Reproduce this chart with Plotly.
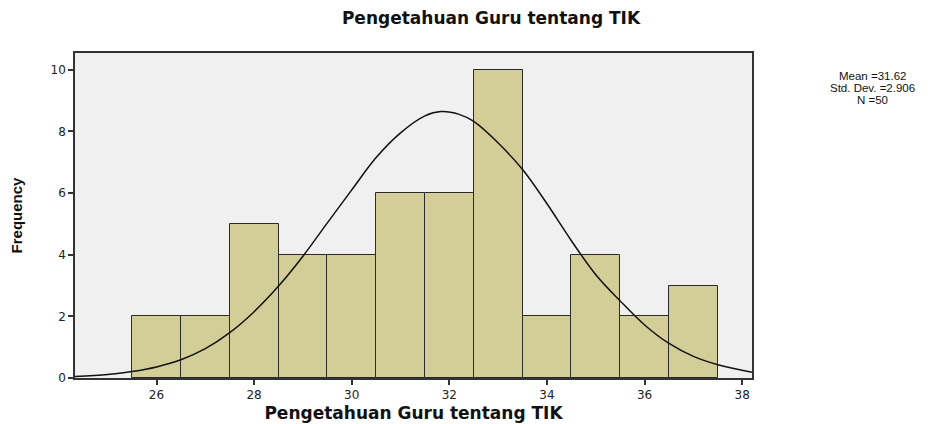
import plotly.graph_objects as go

# Histogram data (bin centres, counts)
bin_centers = [26, 27, 28, 29, 30, 31, 32, 33, 34, 35, 36, 37]
counts = [2, 2, 5, 4, 4, 6, 6, 10, 2, 4, 2, 3]

# Normal curve as drawn
curve_x = [24.33, 25.0, 25.5, 26.0, 26.5, 27.0, 27.5, 28.0, 28.5, 29.0, 29.5, 30.0,
           30.5, 31.0, 31.5, 31.83, 32.2, 32.5, 33.0, 33.5, 34.0, 34.5, 35.0, 35.5,
           36.0, 36.5, 37.0, 37.5, 38.2]
curve_y = [0.05, 0.11, 0.21, 0.36, 0.59, 0.95, 1.47, 2.15, 2.98, 3.95, 5.03, 6.10,
           7.15, 7.95, 8.50, 8.64, 8.55, 8.32, 7.62, 6.76, 5.65, 4.45, 3.35, 2.50,
           1.72, 1.12, 0.70, 0.43, 0.19]

# Summary statistics
mean_val = 31.62
sd_val = 2.906
n_val = 50

title_text = "Pengetahuan Guru tentang TIK"
x_title = "Pengetahuan Guru tentang TIK"
y_title = "Frequency"
x_ticks = [26, 28, 30, 32, 34, 36, 38]
y_ticks = [0, 2, 4, 6, 8, 10]

# The page body has an 8px default margin, so the figure is drawn 8px in.
OFF = 8
W, H = 940 - OFF, 424 - OFF
ml, mt = 75 - OFF, 53 - OFF
mr = W - (752 - OFF)
mb = H - (378 - OFF)
pw = W - ml - mr
ph = H - mt - mb

fig = go.Figure()
fig.add_trace(go.Bar(
    x=bin_centers, y=counts, width=1,
    marker=dict(color="#d3ce98", line=dict(color="#2a2a2a", width=1)),
    showlegend=False, hoverinfo="x+y",
))
fig.add_trace(go.Scatter(
    x=curve_x, y=curve_y, mode="lines",
    line=dict(color="#111111", width=1.5, shape="spline", smoothing=1.0),
    showlegend=False, hoverinfo="skip",
))

stats_lines = [f"Mean ={mean_val:.2f}", f"Std. Dev. ={sd_val:.3f}", f"N ={n_val}"]
stats_px_y = [75.5, 87.5, 99.5]
stats_px_x = 872
for txt, py in zip(stats_lines, stats_px_y):
    fig.add_annotation(
        text=txt, xref="paper", yref="paper",
        x=(stats_px_x - OFF - ml) / pw, y=1 - (py - OFF - mt) / ph,
        xanchor="center", yanchor="middle", showarrow=False,
        font=dict(family="Liberation Sans, Arial, sans-serif", size=11.5, color="#111111"),
    )

fig.update_layout(
    width=W, height=H,
    margin=dict(l=ml, r=mr, t=mt, b=mb, pad=0, autoexpand=False),
    paper_bgcolor="white",
    plot_bgcolor="#f0f0f0",
    bargap=0,
    title=dict(
        text="<b>" + title_text + "</b>",
        xref="container", yref="container",
        x=(491 - OFF) / W, y=1 - (18 - OFF) / H, xanchor="center", yanchor="middle",
        font=dict(family="DejaVu Sans, sans-serif", size=17, color="#111111"),
    ),
    xaxis=dict(
        range=[24.33, 38.2], tickvals=x_ticks, ticktext=[str(v) for v in x_ticks],
        automargin=False,
        showgrid=False, zeroline=False,
        showline=True, mirror=True, linecolor="#333333", linewidth=1.5,
        ticks="outside", ticklen=5, tickcolor="#333333", tickwidth=1.5,
        tickfont=dict(family="DejaVu Sans, sans-serif", size=12, color="#222222"),
        title=dict(text="<b>" + x_title + "</b>", standoff=6,
                   font=dict(family="DejaVu Sans, sans-serif", size=17, color="#111111")),
    ),
    yaxis=dict(
        range=[0, 10.54], tickvals=y_ticks, ticktext=[str(v) for v in y_ticks],
        automargin=False,
        showgrid=False, zeroline=False,
        showline=True, mirror=True, linecolor="#333333", linewidth=1.5,
        ticks="outside", ticklen=5, tickcolor="#333333", tickwidth=1.5,
        tickfont=dict(family="DejaVu Sans, sans-serif", size=12, color="#222222"),
        title=dict(text="<b>" + y_title + "</b>", standoff=28,
                   font=dict(family="Liberation Sans, Arial, sans-serif", size=15, color="#111111")),
    ),
)

fig.write_html("out.html")
